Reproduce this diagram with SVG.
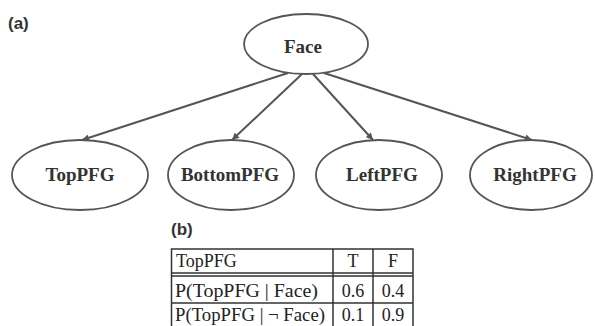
<svg xmlns="http://www.w3.org/2000/svg" width="595" height="326" viewBox="0 0 595 326">
<style>
.node ellipse{fill:#fff;stroke:#555;stroke-width:1.8}
.lbl{font-family:"Liberation Serif",serif;font-weight:bold;font-size:19px;fill:#333;text-anchor:middle}
.edge{stroke:#555;stroke-width:2;fill:none;marker-end:url(#ah)}
.tag{font-family:"Liberation Sans",sans-serif;font-weight:bold;font-size:17px;fill:#333}
.tl{stroke:#333;stroke-width:1.5;fill:none}
.tt{font-family:"Liberation Serif",serif;font-size:18px;fill:#222}
.tc{text-anchor:middle}
</style>
<defs>
<marker id="ah" viewBox="0 0 10 10" refX="10" refY="5" markerWidth="8" markerHeight="7" markerUnits="userSpaceOnUse" orient="auto">
<path d="M0,0 L10,5 L0,10 z" fill="#555"/>
</marker>
</defs>
<text class="tag" x="8" y="29">(a)</text>
<g id="connectors">
<line class="edge" x1="288" y1="73" x2="82" y2="140"/>
<line class="edge" x1="302" y1="74" x2="232" y2="140"/>
<line class="edge" x1="313" y1="74" x2="373" y2="140"/>
<line class="edge" x1="324" y1="73" x2="532" y2="140"/>
</g>
<g id="face" class="node"><ellipse cx="306" cy="44" rx="62" ry="30"/><text class="lbl" x="303" y="53">Face</text></g>
<g id="toppfg" class="node"><ellipse cx="80" cy="175" rx="68" ry="35"/><text class="lbl" x="80" y="181">TopPFG</text></g>
<g id="bottompfg" class="node"><ellipse cx="231" cy="175" rx="63" ry="35"/><text class="lbl" x="230" y="181">BottomPFG</text></g>
<g id="leftpfg" class="node"><ellipse cx="379" cy="175" rx="63" ry="35"/><text class="lbl" x="382" y="181">LeftPFG</text></g>
<g id="rightpfg" class="node"><ellipse cx="531" cy="175" rx="61" ry="35"/><text class="lbl" x="535" y="181">RightPFG</text></g>
<text class="tag" x="171" y="235">(b)</text>
<g id="table">
<path class="tl" d="M171.5,326 V249 H413 V326 M333,249 V326 M373,249 V326 M171.5,273 H413 M171.5,276 H413 M171.5,303 H413"/>
<text class="tt" x="176" y="267">TopPFG</text>
<text class="tt tc" x="353" y="267">T</text>
<text class="tt tc" x="393" y="267">F</text>
<text class="tt" x="175" y="297" textLength="143" lengthAdjust="spacingAndGlyphs">P(TopPFG | Face)</text>
<text class="tt tc" x="353" y="297">0.6</text>
<text class="tt tc" x="393" y="297">0.4</text>
<text class="tt" x="175" y="321" textLength="150" lengthAdjust="spacingAndGlyphs">P(TopPFG | ¬ Face)</text>
<text class="tt tc" x="353" y="321">0.1</text>
<text class="tt tc" x="393" y="321">0.9</text>
</g>
</svg>
